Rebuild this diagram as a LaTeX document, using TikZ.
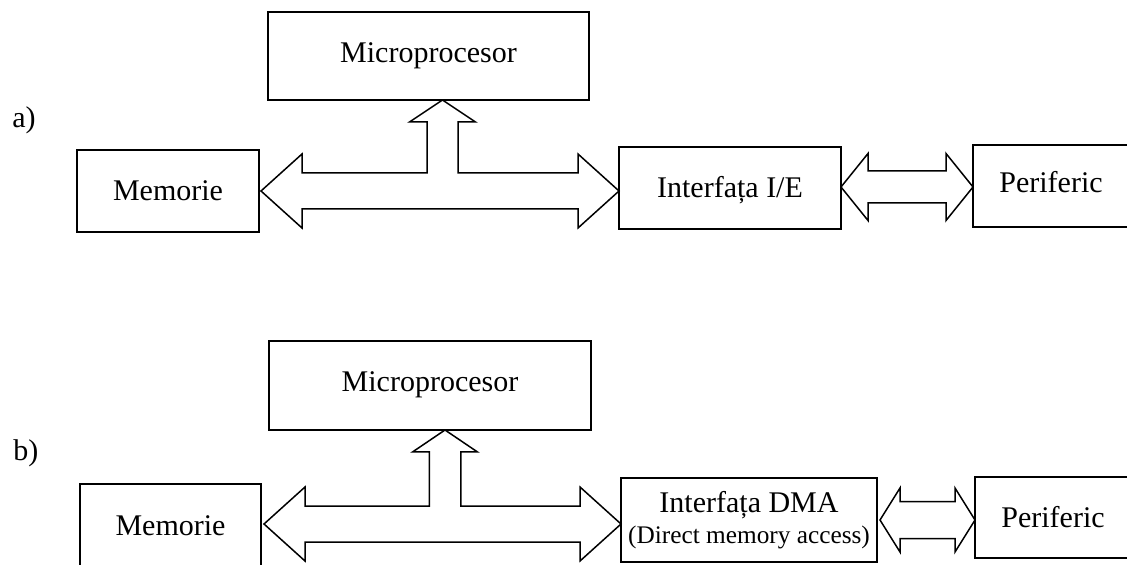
\documentclass[tikz,border=0pt]{standalone}
\usepackage{fontspec}
\setmainfont{Liberation Serif}
\usetikzlibrary{calc}

\tikzset{
  blockbox/.style={draw, line width=1pt, inner sep=0pt, outer sep=0pt,
    font=\fontsize{15}{15.5}\selectfont, align=center},
  capbox/.style={blockbox, text height=10pt, text depth=0pt},
  busarrow/.style={draw, line width=0.75pt, fill=white, line join=miter},
  partlabel/.style={inner sep=0pt, anchor=base west, font=\fontsize{15}{15.5}\selectfont}
}

\begin{document}
\begin{tikzpicture}[x=0.5pt, y=-0.5pt]
\useasboundingbox (0,0) rectangle (1127,565);
\clip (0,0) rectangle (1127,565);
\fill[white] (0,0) rectangle (1127,565);

% ---------- a) ----------
\node[partlabel] (labA) at (12,128) {a)};
\node[capbox, minimum width=160.5pt, minimum height=44pt, text depth=3.75pt] (cpuA) at (428.5,56) {Microprocesor};
\node[capbox, minimum width=91pt, minimum height=41pt] (memA) at (168,191) {Memorie};
\node[capbox, minimum width=111pt, minimum height=41pt] (ioA) at (730,188) {Interfața I/E};
\node[capbox, minimum width=78pt, minimum height=41pt, text depth=3pt] (perA) at (1051,186) {Periferic};

% system bus: memory <-> interface, with a branch up to the processor
\coordinate (aL) at ($(memA.east)+(2,0)$);
\coordinate (aR) at (memA.east -| ioA.west);
\coordinate (aM) at ($(cpuA.south |- memA.east)+(14,0)$);
\coordinate (aU) at ($(cpuA.south)+(14,0)$);
\draw[busarrow] (aL) -- ++(41,-37) -- ++(0,19)
  -- ($(aM)+(-15.5,-18)$) -- ($(aU)+(-15.5,22)$) -- ($(aU)+(-33,22)$)
  -- (aU) -- ($(aU)+(33,22)$) -- ($(aU)+(15.5,22)$) -- ($(aM)+(15.5,-18)$)
  -- ($(aR)+(-41,-18)$) -- ++(0,-19) -- (aR) -- ++(-41,37) -- ++(0,-19)
  -- ($(aL)+(41,18)$) -- ++(0,19) -- cycle;

% interface <-> peripheral
\coordinate (aIo) at (ioA.east |- 0,187);
\coordinate (aPer) at (perA.west |- 0,187);
\draw[busarrow] (aIo) -- ++(27,-33.5) -- ++(0,17.5) -- ($(aPer)+(-27,-16)$)
  -- ++(0,-17.5) -- (aPer) -- ++(-27,33.5) -- ++(0,-17.5)
  -- ($(aIo)+(27,16)$) -- ++(0,17.5) -- cycle;

% ---------- b) ----------
\node[partlabel] (labB) at (13,460) {b)};
\node[capbox, minimum width=161pt, minimum height=44.5pt, text depth=3.5pt] (cpuB) at (430,385.5) {Microprocesor};
\node[capbox, minimum width=90.5pt, minimum height=41pt] (memB) at (170.5,525) {Memorie};
\node[blockbox, minimum width=128pt, minimum height=42pt] (dmaB) at (749,520)
  {Interfața DMA\\{\fontsize{12.65}{15.5}\selectfont (Direct memory access)}};
\node[capbox, minimum width=78pt, minimum height=40.5pt] (perB) at (1053,517.5) {Periferic};

\coordinate (bL) at ($(memB.east)+(3,-1)$);
\coordinate (bR) at (bL -| dmaB.west);
\coordinate (bM) at ($(cpuB.south |- bL)+(15,0)$);
\coordinate (bU) at ($(cpuB.south)+(15,0)$);
\draw[busarrow] (bL) -- ++(41,-37) -- ++(0,19)
  -- ($(bM)+(-15.75,-18)$) -- ($(bU)+(-15.75,22)$) -- ($(bU)+(-32.5,22)$)
  -- (bU) -- ($(bU)+(32.5,22)$) -- ($(bU)+(15.75,22)$) -- ($(bM)+(15.75,-18)$)
  -- ($(bR)+(-41,-18)$) -- ++(0,-19) -- (bR) -- ++(-41,37) -- ++(0,-19)
  -- ($(bL)+(41,18)$) -- ++(0,19) -- cycle;

% DMA interface <-> peripheral
\coordinate (bIo) at ($(dmaB.east)+(3,0)$);
\coordinate (bPer) at (perB.west |- bIo);
\draw[busarrow] (bIo) -- ++(20,-32) -- ++(0,13.5) -- ($(bPer)+(-20,-18.5)$)
  -- ++(0,-13.5) -- (bPer) -- ++(-20,32) -- ++(0,-13.5)
  -- ($(bIo)+(20,18.5)$) -- ++(0,13.5) -- cycle;
\end{tikzpicture}
\end{document}
